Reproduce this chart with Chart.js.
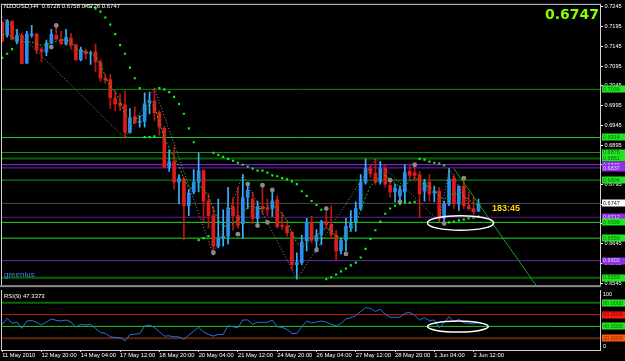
<!DOCTYPE html>
<html><head><meta charset="utf-8">
<script src="https://cdn.jsdelivr.net/npm/chart.js@4.4.0/dist/chart.umd.min.js"></script>
<style>
html,body{margin:0;padding:0;background:#000;width:625px;height:361px;overflow:hidden;position:relative;}
canvas{position:absolute;left:0;}
#c1{top:0;}
#c2{top:290px;}
.t{position:absolute;white-space:nowrap;line-height:1;font-family:"Liberation Sans",Arial,sans-serif;}
</style></head><body>
<canvas id="c1" width="625" height="290"></canvas>
<canvas id="c2" width="625" height="71"></canvas>
<div class="t" style="left:4px;top:3px;font-size:6px;color:#fff;">NZDUSD,H4&nbsp; 0.6728 0.6758 0.6726 0.6747</div>
<div class="t" style="right:26px;top:6.7px;font-size:14px;font-weight:bold;color:#84ff00;font-family:'DejaVu Sans',sans-serif;">0.6747</div>
<div class="t" style="left:492px;top:204px;font-size:9px;font-weight:bold;color:#ffd700;">183:45</div>
<div class="t" style="left:4px;top:271px;font-size:8px;color:#3f86e0;">greenius</div>
<div class="t" style="left:4px;top:293px;font-size:6px;color:#fff;">RSI(9) 47.3373</div>
<script>
// ---------------- DATA ----------------
const opens = [.7205,.7173,.7208,.7156,.7173,.7103,.7173,.7176,.7138,.7131,
.7153,.7173,.7163,.7151,.7166,.7148,.7111,.7133,.7126,.7131,
.7106,.7064,.7061,.7014,.7002,.6997,.6927,.6967,.6952,.6955,
.7002,.7007,.6977,.6937,.6838,.6853,.6801,.6808,.6741,.6776,
.6801,.6830,.6753,.6716,.6639,.6659,.6664,.6739,.6716,.6696,
.6763,.6758,.6709,.6739,.6736,.6734,.6756,.6691,.6689,.6674,
.6592,.6597,.6652,.6699,.6652,.6667,.6701,.6694,.6667,.6627,
.6654,.6686,.6701,.6734,.6801,.6835,.6823,.6801,.6835,.6793,
.6776,.6766,.6776,.6828,.6825,.6820,.6778,.6801,.6773,.6778,
.6709,.6746,.6811,.6746,.6791,.6741,.6734,.6728];
const highs = [.7208,.7213,.7210,.7188,.7178,.7183,.7198,.7178,.7143,.7161,
.7188,.7193,.7183,.7188,.7178,.7151,.7143,.7138,.7133,.7151,
.7111,.7074,.7074,.7032,.7024,.7032,.6987,.6992,.6969,.7027,
.7029,.7039,.6982,.6942,.6883,.6890,.6820,.6813,.6783,.6833,
.6875,.6833,.6771,.6739,.6758,.6731,.6788,.6761,.6788,.6820,
.6796,.6776,.6753,.6791,.6758,.6778,.6766,.6724,.6704,.6676,
.6622,.6667,.6709,.6714,.6681,.6704,.6726,.6741,.6679,.6659,
.6709,.6729,.6751,.6820,.6860,.6845,.6860,.6853,.6845,.6808,
.6796,.6791,.6845,.6843,.6840,.6828,.6808,.6820,.6791,.6788,
.6753,.6835,.6820,.6791,.6813,.6776,.6761,.6758];
const lows = [.7156,.7168,.7161,.7151,.7101,.7101,.7168,.7126,.7106,.7121,
.7151,.7163,.7151,.7148,.7138,.7108,.7108,.7113,.7099,.7081,
.7056,.7051,.6987,.6982,.6982,.6912,.6925,.6950,.6940,.6940,
.6974,.6957,.6920,.6838,.6828,.6783,.6746,.6654,.6716,.6771,
.6776,.6701,.6684,.6617,.6634,.6639,.6644,.6679,.6684,.6659,
.6734,.6696,.6696,.6721,.6716,.6714,.6684,.6681,.6664,.6580,
.6555,.6592,.6627,.6647,.6634,.6642,.6684,.6659,.6602,.6619,
.6627,.6676,.6676,.6729,.6796,.6813,.6796,.6796,.6788,.6763,
.6751,.6751,.6751,.6808,.6803,.6711,.6753,.6753,.6751,.6701,
.6701,.6741,.6734,.6729,.6734,.6729,.6721,.6726];
const closes = [.7158,.7210,.7163,.7173,.7101,.7176,.7176,.7136,.7131,.7153,
.7176,.7163,.7151,.7168,.7148,.7111,.7136,.7126,.7128,.7106,
.7064,.7059,.7014,.6999,.6994,.6927,.6964,.6950,.6955,.6999,
.7007,.6977,.6940,.6838,.6853,.6801,.6811,.6741,.6773,.6801,
.6830,.6753,.6716,.6639,.6659,.6664,.6736,.6716,.6691,.6761,
.6781,.6709,.6739,.6734,.6731,.6753,.6689,.6689,.6672,.6592,
.6597,.6649,.6699,.6654,.6667,.6701,.6694,.6667,.6627,.6654,
.6689,.6696,.6734,.6801,.6835,.6823,.6801,.6835,.6796,.6776,
.6786,.6783,.6825,.6818,.6818,.6771,.6801,.6771,.6778,.6709,
.6746,.6808,.6746,.6791,.6741,.6734,.6726,.6747];
const maValues = [.7173,.7176,.7168,.7163,.7156,.7156,.7156,.7151,.7148,.7148,
.7153,.7158,.7161,.7161,.7158,.7141,.7133,.7131,.7128,.7118,
.7099,.7069,.7044,.7029,.7007,.6974,.6957,.6962,.6964,.6977,
.7002,.6992,.6952,.6912,.6887,.6863,.6843,.6808,.6788,.6783,
.6793,.6783,.6766,.6734,.6704,.6689,.6689,.6696,.6704,.6721,
.6739,.6739,.6734,.6734,.6739,.6743,.6734,.6721,.6704,.6672,
.6647,.6634,.6647,.6659,.6664,.6679,.6684,.6679,.6664,.6659,
.6669,.6679,.6696,.6729,.6763,.6791,.6803,.6816,.6818,.6808,
.6798,.6788,.6793,.6803,.6813,.6803,.6793,.6788,.6783,.6766,
.6758,.6766,.6773,.6768,.6763,.6758,.6746,.6741];
const sarValues = [.7116,.7126,.7138,null,null,null,null,null,null,null,
null,null,null,null,null,null,null,.7247,.7245,.7240,
.7233,.7218,.7200,.7176,.7148,.7126,.7091,.7064,.7039,.6915,
.6915,.6917,.7039,.7036,.7029,.7017,.6999,.6974,.6937,.6902,
.6654,.6659,.6664,.6875,.6870,.6865,.6860,.6855,.6850,.6845,
.6840,.6835,.6830,.6830,.6825,.6818,.6816,.6811,.6808,.6803,
.6796,.6778,.6766,.6753,.6743,.6731,.6555,.6560,.6567,.6575,
.6582,.6590,.6597,.6610,.6632,.6657,.6679,.6701,.6721,.6734,
.6741,.6746,.6749,.6749,.6751,.6860,.6858,.6853,.6850,.6848,
.6843,.6699,.6701,.6704,.6706,.6709,.6711,.6714];
const rsiValues = [43.5,53.8,45.2,47.4,36.6,49.1,50.0,46.9,42.3,47.4,
52.6,50.3,49.1,50.9,47.4,38.9,43.5,42.3,43.5,36.6,
29.8,28.1,22.3,21.2,21.2,15.4,26.0,26.9,27.7,40.6,
42.3,38.0,31.2,23.5,24.0,22.3,22.3,18.3,25.2,32.0,
38.4,30.8,26.4,23.5,26.4,26.4,41.1,39.4,37.7,50.9,
50.9,43.5,46.9,46.9,46.9,50.9,39.4,38.4,34.9,28.1,
28.1,39.4,49.1,45.7,47.4,49.1,47.4,43.5,40.6,45.2,
52.6,54.8,58.2,65.1,71.9,70.5,65.4,69.2,60.6,55.5,
55.5,55.5,62.3,63.7,58.9,50.9,54.8,49.7,50.9,37.7,
46.9,56.5,47.9,52.1,46.2,45.2,44.0,47.3373];
const zigzagPoints = [[0,.7219],[25,.6912],[31,.7039],[43,.6617],[49,.6820],[60,.6555],[76,.6860],[89,.6701],[91,.6835],[96,.6721]];
const fractalPoints = [[10,.7143],[11,.7198],[43,.6622],[48,.6669],[50,.6796],[52,.6691],[53,.6793],[54,.6699],[55,.6781],[64,.6629],[66,.6734],[70,.6619],[79,.6806],[81,.6751],[84,.6845],[90,.6696],[94,.6811]];
const levelPrices = [0.7036,0.6914,0.6876,0.6861,0.6845,0.6837,0.6806,0.6747,0.6712,0.6699,0.6659,0.6602,0.6559];
const trendLine = [[92,0.6835],[110,0.6517]];
const priceTicks = [0.7245,0.7195,0.7145,0.7095,0.7045,0.6995,0.6945,0.6895,0.6845,0.6795,0.6745,0.6695,0.6645,0.6595,0.6545];
const timeLabels = ["11 May 2010","12 May 20:00","14 May 04:00","17 May 12:00","18 May 20:00","20 May 04:00","21 May 12:00","24 May 20:00","26 May 04:00","27 May 12:00","28 May 20:00","1 Jun 04:00","2 Jun 12:00"];
const timeLabelIdx = [0,8,16,24,32,40,48,56,64,72,80,88,96];
const rsiLevels = [80,60,40,20];
const rsiAxisLabels = [100,0];
const mainEllipse = {x0:86.6,x1:100.1,y0:0.6716,y1:0.6679};
const rsiEllipse = {x0:86.6,x1:99.0,y0:49.0,y1:30.5};

// ---------------- STYLES ----------------
const levelStyle = [
 {c:'#0a8a0a',w:1,bg:'#22e622',fg:'#0b6a0b'},
 {c:'#1ed01e',w:1,bg:'#22e622',fg:'#0b6a0b'},
 {c:'#0a9a0a',w:1,bg:'#22e622',fg:'#0b6a0b'},
 {c:'#066406',w:2,bg:'#22e622',fg:'#0b6a0b'},
 {c:'#9433f0',w:1,bg:'#8f2fe6',fg:'#e6ccff'},
 {c:'#7322c8',w:1,bg:'#8f2fe6',fg:'#e6ccff'},
 {c:'#0aa00a',w:1,bg:'#22e622',fg:'#0b6a0b'},
 {c:'#484848',w:1,bg:'#ffffff',fg:'#202020'},
 {c:'#5c1f90',w:1,bg:'#8f2fe6',fg:'#e6ccff'},
 {c:'#22dd22',w:1,bg:'#22e622',fg:'#0b6a0b'},
 {c:'#22dd22',w:1,bg:'#22e622',fg:'#0b6a0b'},
 {c:'#6a2aa0',w:1,bg:'#8f2fe6',fg:'#e6ccff'},
 {c:'#066406',w:2,bg:'#22e622',fg:'#0b6a0b'}
];
const rsiLevelStyle = [
 {c:'#066a06',w:2,bg:'#22e622',fg:'#0b6a0b'},
 {c:'#cc1010',w:1,bg:'#ff1a1a',fg:'#7a0000'},
 {c:'#22cc22',w:1,bg:'#22e622',fg:'#0b6a0b'},
 {c:'#6a2208',w:2,bg:'#ff5a0a',fg:'#7a2a00'}
];
const BULL = '#2a8ff0', BEAR = '#dd1c1c', BULL_WICK = '#36b4ff', BEAR_WICK = '#c01414';
const FONT = '"Liberation Sans", Arial, sans-serif';
const X_MIN = -0.05, X_MAX = 121.95;
const idx = closes.map((_, i) => i);

const mt4Plugin = {
  id: 'mt4',
  beforeDraw(chart) {
    const ctx = chart.ctx; ctx.save(); ctx.fillStyle = '#000'; ctx.fillRect(0, 0, chart.width, chart.height); ctx.restore();
  },
  afterDraw(chart, args, o) {
    const {ctx, chartArea: a} = chart;
    const ys = chart.scales.y, xs = chart.scales.x;
    ctx.save();
    if (o.band) { ctx.fillStyle = '#8c8c8c'; ctx.fillRect(0, a.bottom, a.right, 2); }
    ctx.strokeStyle = '#d0d0d0'; ctx.lineWidth = 1; ctx.beginPath();
    if (o.top) { ctx.moveTo(a.left - 1, a.top - 0.5); ctx.lineTo(a.right, a.top - 0.5); }
    ctx.moveTo(a.left - 0.5, a.top - 1); ctx.lineTo(a.left - 0.5, a.bottom + (o.bottom ? 1 : 0));
    ctx.moveTo(a.right - 0.5, a.top - 1); ctx.lineTo(a.right - 0.5, a.bottom + (o.bottom ? 1 : 0));
    if (o.bottom) { ctx.moveTo(a.left - 1, a.bottom + 0.5); ctx.lineTo(a.right, a.bottom + 0.5); }
    ctx.stroke();
    if (o.ellipse) {
      const e = o.ellipse;
      const px0 = xs.getPixelForValue(e.x0), px1 = xs.getPixelForValue(e.x1);
      const py0 = ys.getPixelForValue(e.y0), py1 = ys.getPixelForValue(e.y1);
      ctx.strokeStyle = '#ffffff'; ctx.lineWidth = 1.5; ctx.beginPath();
      ctx.ellipse((px0 + px1) / 2, (py0 + py1) / 2, Math.abs(px1 - px0) / 2, Math.abs(py1 - py0) / 2, 0, 0, Math.PI * 2);
      ctx.stroke();
    }
    ctx.font = '5.5px ' + FONT; ctx.textBaseline = 'middle'; ctx.textAlign = 'left';
    (o.tags || []).forEach(t => {
      const y = ys.getPixelForValue(t.v);
      ctx.fillStyle = t.bg; ctx.fillRect(a.right + 1, Math.round(y) - 3.5, 24, 7);
      ctx.fillStyle = t.fg; ctx.fillText(t.v.toFixed(4), a.right + 2, y + 0.3);
    });
    (o.axisLabels || []).forEach(v => {
      const y = ys.getPixelForValue(v);
      ctx.fillStyle = '#fff';
      ctx.fillText(String(v), a.right + 2, v > 50 ? y + 3.5 : y - 4);
    });
    ctx.restore();
  }
};

const hl = (p, s) => ({type: 'line', data: [{x: X_MIN - 2, y: p}, {x: X_MAX + 2, y: p}], borderColor: s.c, borderWidth: s.w, pointRadius: 0, order: 20});

new Chart(document.getElementById('c1'), {
  type: 'bar',
  plugins: [mt4Plugin],
  data: { datasets: [
    ...levelPrices.map((p, k) => hl(p, levelStyle[k])),
    {label: 'wick', data: idx.map(i => ({x: i, y: [lows[i], highs[i]]})), backgroundColor: idx.map(i => closes[i] >= opens[i] ? BULL_WICK : BEAR_WICK), barThickness: 1, grouped: false, minBarLength: 1, borderWidth: 0, order: 10},
    {label: 'body', data: idx.map(i => ({x: i, y: [opens[i], closes[i]]})), backgroundColor: idx.map(i => closes[i] >= opens[i] ? BULL : BEAR), barThickness: 3, grouped: false, minBarLength: 1, borderWidth: 0, order: 9},
    {type: 'line', label: 'zigzag', data: zigzagPoints.map(p => ({x: p[0], y: p[1]})), borderColor: '#8c8c8c', borderWidth: 1, borderDash: [1, 2], pointRadius: 0, order: 6},
    {type: 'line', label: 'ma', data: idx.map(i => ({x: i, y: maValues[i]})), borderColor: '#1fbf1f', borderWidth: 1, borderDash: [2, 2], pointRadius: 0, order: 5},
    {type: 'line', label: 'fractals', data: fractalPoints.map(p => ({x: p[0], y: p[1]})), showLine: false, pointRadius: 2.4, pointBackgroundColor: '#8a8a8a', pointBorderWidth: 0, order: 4},
    {type: 'line', label: 'sar', data: idx.filter(i => sarValues[i] !== null).map(i => ({x: i, y: sarValues[i]})), showLine: false, pointStyle: 'rect', pointRadius: 1.5, pointBackgroundColor: '#1cf01c', pointBorderWidth: 0, order: 3},
    {type: 'line', label: 'trend', data: trendLine.map(p => ({x: p[0], y: p[1]})), borderColor: '#12a812', borderWidth: 1, pointRadius: 0, order: 2}
  ]},
  options: {
    responsive: false, animation: false, devicePixelRatio: 1, events: [],
    layout: {padding: {left: 2, top: 2, right: 0, bottom: 2}, autoPadding: false},
    plugins: {legend: {display: false}, tooltip: {enabled: false},
      mt4: {band: true, top: true, ellipse: mainEllipse,
        tags: levelPrices.map((v, k) => ({v, bg: levelStyle[k].bg, fg: levelStyle[k].fg}))}},
    scales: {
      x: {type: 'linear', min: X_MIN, max: X_MAX, display: false, offset: false, grid: {offset: false}},
      y: {type: 'linear', position: 'right', min: 0.6540, max: 0.7250,
        afterBuildTicks: s => { s.ticks = priceTicks.map(v => ({value: v})); },
        afterFit: s => { s.width = 24; },
        ticks: {color: '#fff', font: {family: FONT, size: 5.6}, padding: 1.5, autoSkip: false, callback: v => Number(v).toFixed(4)},
        grid: {display: true, drawOnChartArea: false, drawTicks: true, tickLength: 2, tickColor: '#fff'},
        border: {display: false}}
    }
  }
});

new Chart(document.getElementById('c2'), {
  type: 'line',
  plugins: [mt4Plugin],
  data: { datasets: [
    ...rsiLevels.map((v, k) => hl(v, rsiLevelStyle[k])),
    {label: 'RSI(9)', data: idx.map(i => ({x: i, y: rsiValues[i]})), borderColor: '#1f78e0', borderWidth: 1, pointRadius: 0, tension: 0, order: 1}
  ]},
  options: {
    responsive: false, animation: false, devicePixelRatio: 1, events: [],
    layout: {padding: {left: 2, top: 1, right: 0, bottom: 0}, autoPadding: false},
    plugins: {legend: {display: false}, tooltip: {enabled: false},
      mt4: {bottom: true, ellipse: rsiEllipse, axisLabels: rsiAxisLabels,
        tags: rsiLevels.map((v, k) => ({v, bg: rsiLevelStyle[k].bg, fg: rsiLevelStyle[k].fg}))}},
    scales: {
      x: {type: 'linear', min: X_MIN, max: X_MAX, offset: false, position: 'bottom',
        afterBuildTicks: s => { s.ticks = timeLabelIdx.map(v => ({value: v})); },
        afterFit: s => { s.height = 11; },
        ticks: {color: '#fff', font: {family: FONT, size: 5.8}, padding: 0, align: 'start', maxRotation: 0, minRotation: 0, autoSkip: false, callback: (v, i) => timeLabels[i]},
        grid: {display: true, drawOnChartArea: false, drawTicks: true, tickLength: 2, tickColor: '#ddd', offset: false},
        border: {display: false}},
      y: {type: 'linear', position: 'right', min: 0, max: 100,
        afterFit: s => { s.width = 24; },
        ticks: {display: false}, grid: {display: false}, border: {display: false}}
    }
  }
});
</script>
</body></html>
